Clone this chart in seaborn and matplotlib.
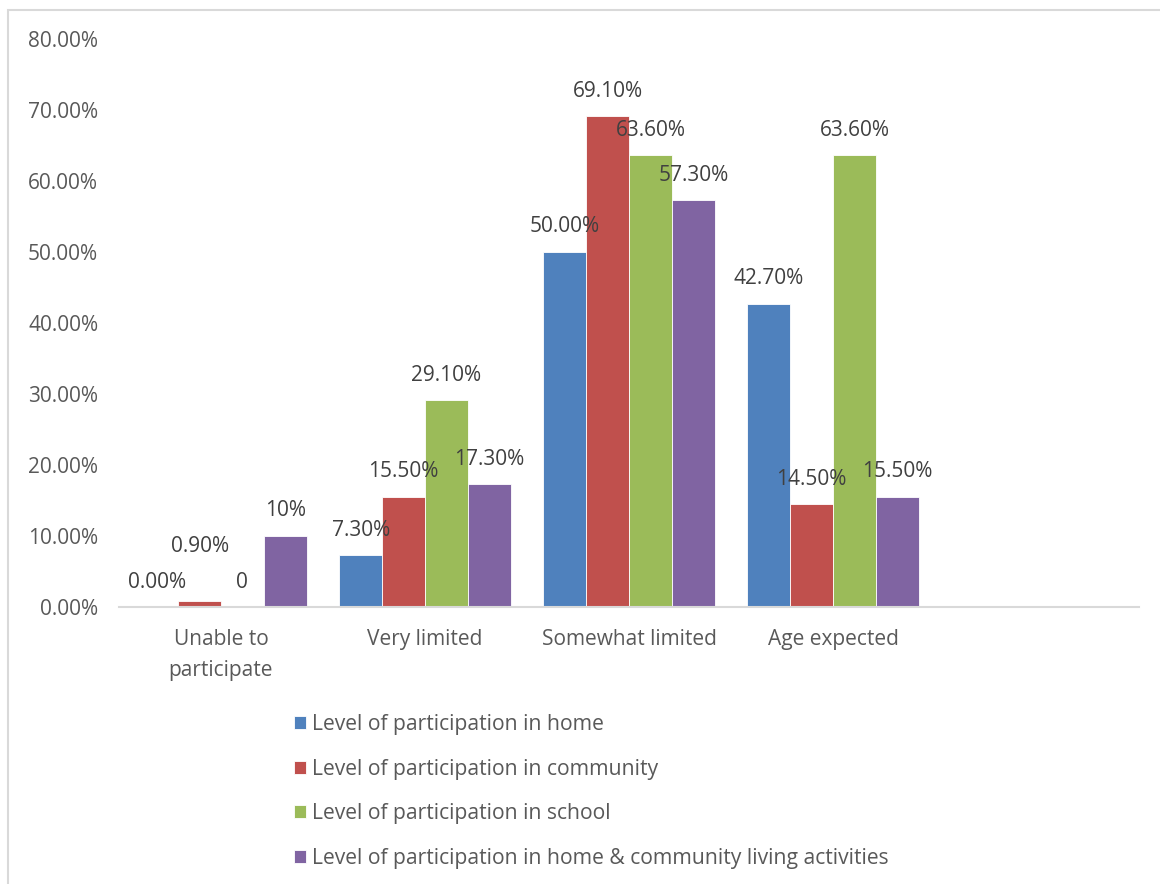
import matplotlib
matplotlib.use("Agg")
import matplotlib.pyplot as plt
from matplotlib.patches import Rectangle
import seaborn as sns
import pandas as pd

categories = ["Unable to\nparticipate", "Very limited", "Somewhat limited", "Age expected"]
series_names = [
    "Level of participation in home",
    "Level of participation in community",
    "Level of participation in school",
    "Level of participation in home & community living activities",
]
home = [0.000, 0.073, 0.500, 0.427]
community = [0.009, 0.155, 0.691, 0.145]
school = [0.000, 0.291, 0.636, 0.636]
home_community = [0.100, 0.173, 0.573, 0.155]

home_labels = ["0.00%", "7.30%", "50.00%", "42.70%"]
community_labels = ["0.90%", "15.50%", "69.10%", "14.50%"]
school_labels = ["0", "29.10%", "63.60%", "63.60%"]
home_community_labels = ["10%", "17.30%", "57.30%", "15.50%"]

y_ticks = [0.0, 0.1, 0.2, 0.3, 0.4, 0.5, 0.6, 0.7, 0.8]
y_tick_labels = ["0.00%", "10.00%", "20.00%", "30.00%", "40.00%", "50.00%", "60.00%", "70.00%", "80.00%"]

colors = ["#4F81BD", "#C0504D", "#9BBB59", "#8064A2"]

all_values = [home, community, school, home_community]
all_labels = [home_labels, community_labels, school_labels, home_community_labels]

rows = []
for s, vals in zip(series_names, all_values):
    for c, v in zip(categories, vals):
        rows.append({"category": c, "series": s, "value": v})
df = pd.DataFrame(rows)

sns.set_theme(style="white")
plt.rcParams["font.family"] = ["Open Sans", "DejaVu Sans"]

fig = plt.figure(figsize=(11.6, 8.84), dpi=100)
ax = fig.add_axes([119 / 1160, 1 - 607 / 884, (1139 - 119) / 1160, (607 - 39) / 884])

sns.barplot(data=df, x="category", y="value", hue="series", order=categories,
            hue_order=series_names, palette=colors, width=0.84, ax=ax,
            edgecolor="white", linewidth=0.6, saturation=1, errorbar=None)

ax.set_xlim(-0.5, 4.5)
ax.set_ylim(0, 0.8)
ax.set_yticks(y_ticks)
ax.set_yticklabels(y_tick_labels)
ax.set_xlabel("")
ax.set_ylabel("")
for sp in ["left", "right", "top"]:
    ax.spines[sp].set_visible(False)
ax.spines["bottom"].set_color("#d9d9d9")
ax.spines["bottom"].set_linewidth(1.5)
ax.tick_params(axis="both", length=0, labelsize=15, colors="#595959")
ax.tick_params(axis="y", pad=15)
ax.tick_params(axis="x", pad=15.5)
for t in ax.get_xticklabels():
    t.set_linespacing(1.65)

# data labels
extra_lift = {(0, 1): 29}
for si, cont in enumerate(ax.containers):
    for ci, bar in enumerate(cont.patches):
        if ci >= len(categories):
            continue
        x = bar.get_x() + bar.get_width() / 2
        h = bar.get_height()
        off_px = 25 + extra_lift.get((ci, si), 0)
        ax.annotate(all_labels[si][ci], xy=(x, h), xytext=(0, off_px * 0.72),
                    textcoords="offset points", ha="center", va="center",
                    fontsize=15, color="#404040")

# legend
handles, labels = ax.get_legend_handles_labels()
if ax.get_legend() is not None:
    ax.get_legend().remove()
fig.legend(handles, labels, loc="upper left", bbox_to_anchor=(275 / 1160, 1 - 695 / 884),
           frameon=False, fontsize=15.2, handlelength=0.55, handleheight=0.55,
           handletextpad=0.3, labelspacing=1.12, labelcolor="#595959")

# outer chart border
fig.patches.append(Rectangle((8 / 1160, -0.05), 1.2, 1 - 10 / 884 + 0.05,
                             transform=fig.transFigure, fill=False,
                             edgecolor="#d9d9d9", linewidth=1.5))

fig.savefig("out.png", dpi=100)
